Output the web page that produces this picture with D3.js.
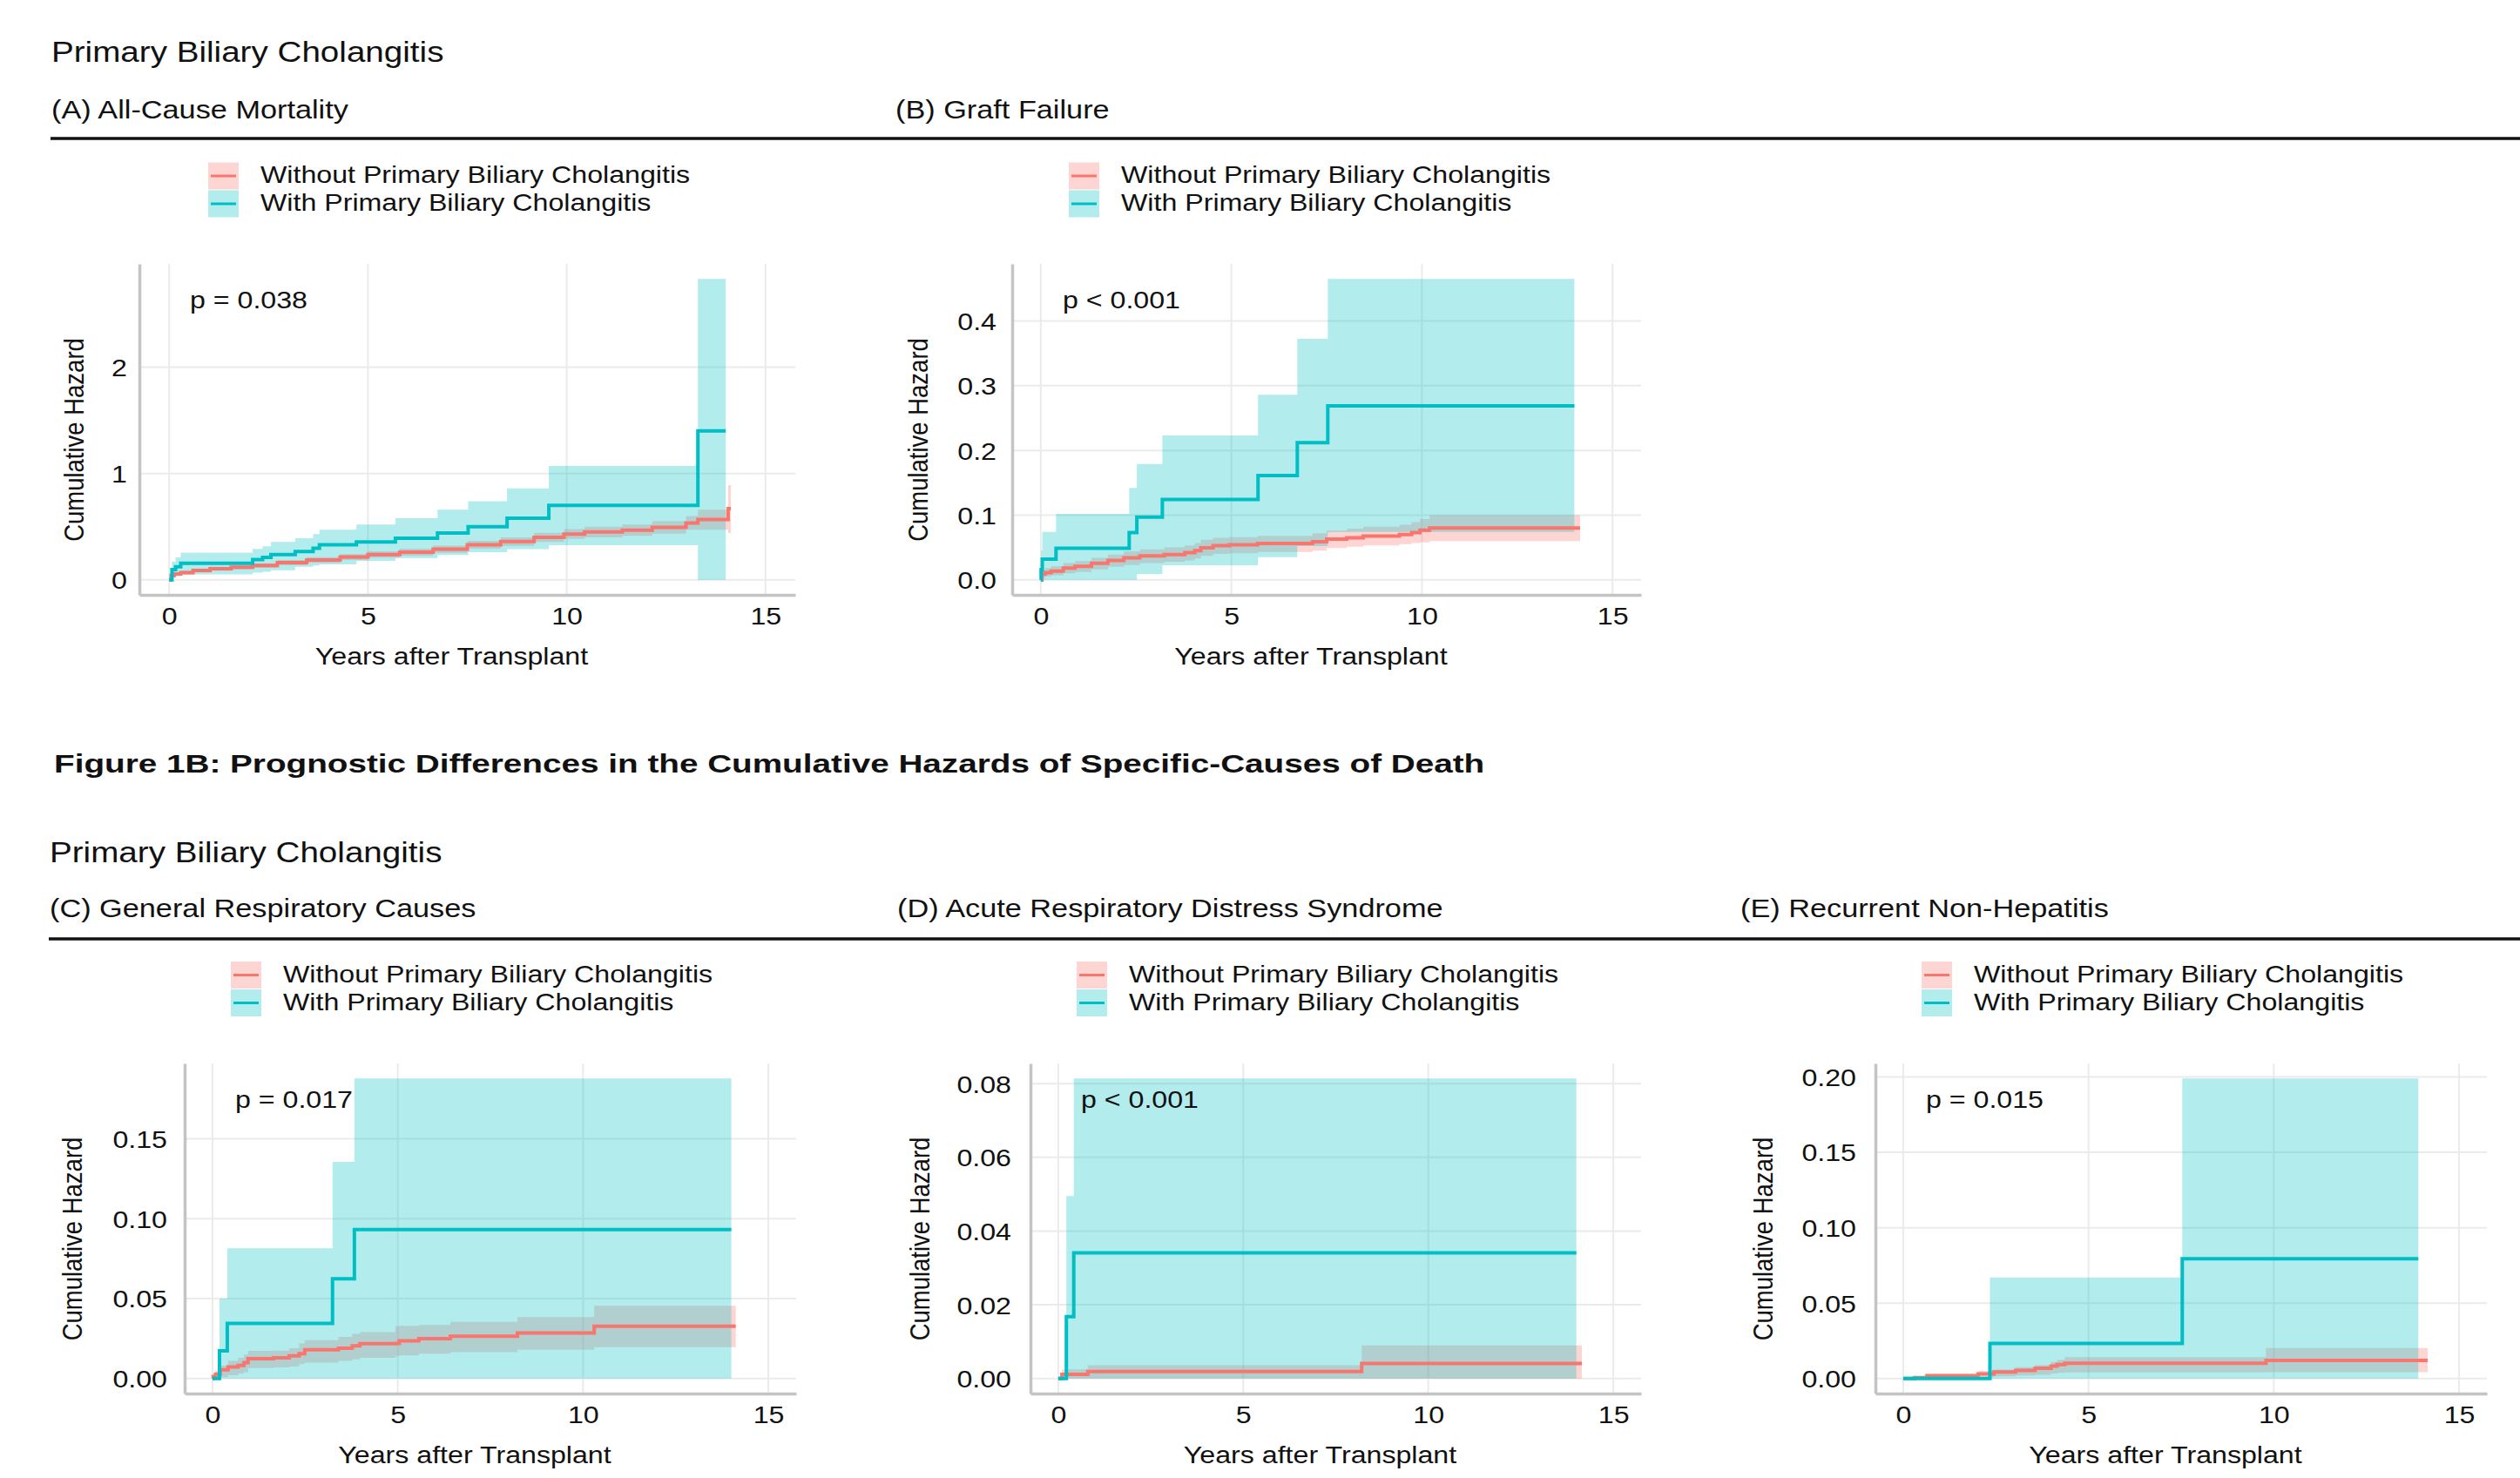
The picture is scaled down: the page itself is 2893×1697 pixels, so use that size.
<!DOCTYPE html>
<html><head><meta charset="utf-8">
<script src="https://cdn.jsdelivr.net/npm/d3@7"></script>
<style>
html,body{margin:0;padding:0;background:#fff;}
svg{display:block;}
text{font-family:"Liberation Sans",Arial,Helvetica,sans-serif;}
</style></head><body>
<svg id="chart" width="2893" height="1697"></svg>
<script>
// ---------------- DATA ----------------
const groupTitle = "Primary Biliary Cholangitis";
const figureTitle = "Figure 1B: Prognostic Differences in the Cumulative Hazards of Specific-Causes of Death";
const seriesNames = ["Without Primary Biliary Cholangitis", "With Primary Biliary Cholangitis"];
const seriesColors = ["#F8766D", "#00BFC4"];
const panelTitles = ["(A) All-Cause Mortality", "(B) Graft Failure", "(C) General Respiratory Causes",
  "(D) Acute Respiratory Distress Syndrome", "(E) Recurrent Non-Hepatitis"];
const pLabels = ["p = 0.038", "p < 0.001", "p = 0.017", "p < 0.001", "p = 0.015"];
const xTicks = [0, 5, 10, 15];
const xTitle = "Years after Transplant";
const yTitle = "Cumulative Hazard";
const yTicksA = [0, 1, 2];            const yLabelsA = ["0", "1", "2"];
const yTicksB = [0, 0.1, 0.2, 0.3, 0.4]; const yLabelsB = ["0.0", "0.1", "0.2", "0.3", "0.4"];
const yTicksC = [0, 0.05, 0.10, 0.15];  const yLabelsC = ["0.00", "0.05", "0.10", "0.15"];
const yTicksD = [0, 0.02, 0.04, 0.06, 0.08]; const yLabelsD = ["0.00", "0.02", "0.04", "0.06", "0.08"];
const yTicksE = [0, 0.05, 0.10, 0.15, 0.20]; const yLabelsE = ["0.00", "0.05", "0.10", "0.15", "0.20"];

// rows: [years, cumulative hazard, lower CI, upper CI]
const mortalityWithout = [
  [0,0,0,0],[0.05,0.04,0.025,0.055],[0.13,0.055,0.04,0.07],[0.29,0.068,0.052,0.085],[0.6,0.088,0.07,0.106],
  [1.03,0.104,0.085,0.123],[1.56,0.118,0.098,0.138],[2.1,0.134,0.112,0.156],[2.72,0.162,0.138,0.186],
  [3.46,0.186,0.16,0.212],[4.3,0.214,0.186,0.242],[5.0,0.238,0.208,0.268],[5.8,0.26,0.228,0.292],
  [6.64,0.288,0.254,0.322],[7.5,0.33,0.293,0.367],[8.34,0.36,0.32,0.40],[9.18,0.40,0.357,0.443],
  [9.93,0.43,0.384,0.476],[10.45,0.45,0.40,0.50],[11.4,0.466,0.413,0.52],[12.15,0.493,0.435,0.551],
  [13.0,0.534,0.47,0.60],[13.3,0.567,0.47,0.66],[14.06,0.67,0.44,0.89],[14.13,0.67,0.44,0.89]];
const mortalityWith = [
  [0,0,0,0],[0.07,0.096,0.02,0.17],[0.16,0.123,0.035,0.21],[0.29,0.156,0.05,0.255],[2.1,0.19,0.068,0.29],
  [2.35,0.21,0.075,0.315],[2.56,0.238,0.09,0.356],[3.17,0.266,0.123,0.39],[3.62,0.296,0.135,0.43],
  [3.78,0.33,0.145,0.47],[4.71,0.356,0.178,0.52],[5.69,0.39,0.205,0.58],[6.75,0.44,0.233,0.66],
  [7.52,0.50,0.26,0.74],[8.5,0.58,0.288,0.86],[9.55,0.70,0.326,1.07],[13.3,1.40,0,2.83],[14.0,1.40,0,2.83]];

const graftWithout = [
  [0,0,0,0],[0.03,0.009,0.003,0.015],[0.11,0.011,0.005,0.018],[0.27,0.0135,0.007,0.021],[0.59,0.018,0.01,0.026],
  [0.9,0.021,0.012,0.029],[1.33,0.0257,0.016,0.034],[1.76,0.030,0.02,0.039],[2.18,0.034,0.023,0.044],
  [2.6,0.037,0.026,0.047],[3.24,0.039,0.028,0.05],[3.78,0.042,0.03,0.053],[4.04,0.045,0.033,0.057],
  [4.2,0.0495,0.037,0.062],[4.52,0.0527,0.04,0.065],[4.95,0.054,0.041,0.066],[5.69,0.056,0.043,0.068],
  [7.13,0.059,0.045,0.072],[7.5,0.063,0.049,0.076],[8.03,0.065,0.051,0.079],[8.46,0.0676,0.053,0.082],
  [9.41,0.07,0.055,0.085],[9.73,0.073,0.057,0.089],[9.95,0.0766,0.058,0.094],[10.2,0.08,0.06,0.10],
  [14.15,0.08,0.06,0.10]];
const graftWith = [
  [0,0,0,0],[0.01,0.0158,0,0.045],[0.04,0.032,0,0.074],[0.4,0.0486,0,0.102],[2.32,0.073,0,0.142],
  [2.52,0.097,0.009,0.179],[3.19,0.124,0.0225,0.223],[5.7,0.161,0.035,0.286],[6.73,0.212,0.052,0.3725],
  [7.53,0.269,0.074,0.465],[14.0,0.269,0.074,0.465]];

const respWithout = [
  [0,0,0,0],[0.02,0.0012,0,0.003],[0.085,0.0027,0,0.005],[0.21,0.0055,0.001,0.008],[0.42,0.0073,0.002,0.011],
  [0.69,0.0082,0.003,0.013],[0.85,0.01,0.004,0.015],[0.96,0.0124,0.0065,0.0173],[1.65,0.013,0.007,0.0175],
  [2.07,0.0142,0.0075,0.019],[2.34,0.0155,0.009,0.022],[2.49,0.018,0.01,0.024],[3.4,0.019,0.011,0.026],
  [3.77,0.0204,0.012,0.028],[3.98,0.0218,0.013,0.029],[4.94,0.022,0.0142,0.0327],[5.04,0.0236,0.0145,0.033],
  [5.57,0.0249,0.0155,0.0336],[6.42,0.0264,0.0165,0.0355],[8.23,0.0285,0.018,0.0385],[10.3,0.0327,0.0196,0.0455],
  [14.12,0.0327,0.0196,0.0455]];
const respWith = [
  [0,0,0,0],[0.19,0.0173,0,0.05],[0.4,0.0345,0,0.0815],[3.24,0.0624,0,0.1356],[3.83,0.0932,0,0.1878],
  [14.0,0.0932,0,0.1878]];

const ardsWithout = [[0,0,0,0],[0.1,0.0011,0,0.0025],[0.8,0.0019,0,0.0036],[8.2,0.0041,0,0.009],[14.15,0.0041,0,0.009]];
const ardsWith = [[0,0,0,0],[0.22,0.0168,0,0.0495],[0.42,0.0341,0,0.0814],[14.0,0.0341,0,0.0814]];

const recurWithout = [
  [0,0,0,0.0005],[0.3,0.0006,0,0.0012],[0.64,0.0019,0.0003,0.003],[2.02,0.003,0.001,0.005],[2.45,0.0043,0.0015,0.006],
  [3.03,0.0054,0.002,0.0075],[3.56,0.0068,0.0025,0.009],[3.99,0.0082,0.0033,0.011],[4.15,0.0093,0.0037,0.0125],
  [4.36,0.0101,0.004,0.0142],[9.79,0.012,0.0042,0.0202],[14.15,0.012,0.0042,0.0202]];
const recurWith = [[0,0,0,0],[2.34,0.0233,0,0.067],[7.53,0.0794,0,0.199],[13.9,0.0794,0,0.199]];

// ---------------- LAYOUT ----------------
const S = 1.17; // horizontal stretch of the original figure
const FS = 27.5;
const panels = [
  {data:[mortalityWithout, mortalityWith], yt:yTicksA, yl:yLabelsA, left:160, right:913, top:303, bottom:683, tx:59, lx:239, ly:186.5, gap:14},
  {data:[graftWithout, graftWith], yt:yTicksB, yl:yLabelsB, left:1162, right:1884, top:303, bottom:683, tx:1028, lx:1227, ly:186.5, gap:18},
  {data:[respWithout, respWith], yt:yTicksC, yl:yLabelsC, left:212, right:914, top:1221, bottom:1600, tx:57, lx:265, ly:1104, gap:20},
  {data:[ardsWithout, ardsWith], yt:yTicksD, yl:yLabelsD, left:1183, right:1884, top:1221, bottom:1600, tx:1030, lx:1236, ly:1104, gap:22},
  {data:[recurWithout, recurWith], yt:yTicksE, yl:yLabelsE, left:2153, right:2855, top:1221, bottom:1600, tx:1998, lx:2206, ly:1104, gap:22}
];
const rows = [{titleY:71, subY:136, lineY:159, titleX:59}, {titleY:990, subY:1053, lineY:1078, titleX:57}];

const svg = d3.select("#chart");
svg.append("rect").attr("width", 2893).attr("height", 1697).attr("fill", "#fff");

function hText(parent, x, y, str, size, anchor, weight, sx) {
  const g = parent.append("g").attr("transform", `translate(${x},${y}) scale(${sx || S},1)`);
  g.append("text").attr("text-anchor", anchor || "start")
    .style("font-size", size + "px").style("font-weight", weight || "normal")
    .attr("fill", "#111").text(str);
  return g;
}

// row headers
rows.forEach(r => {
  hText(svg, r.titleX, r.titleY, groupTitle, 33);
  svg.append("line").attr("x1", r.titleX - 1).attr("x2", 2893).attr("y1", r.lineY).attr("y2", r.lineY)
    .attr("stroke", "#111").attr("stroke-width", 3.5);
});
hText(svg, 62, 887, figureTitle, 30, "start", "bold", 1.29);

panels.forEach((P, i) => {
  const row = rows[i < 2 ? 0 : 1];
  const g = svg.append("g");
  hText(g, P.tx, row.subY, panelTitles[i], 29.3);

  // legend
  seriesNames.forEach((name, k) => {
    const yy = P.ly + k * 32;
    g.append("rect").attr("x", P.lx).attr("y", yy).attr("width", 35).attr("height", 31)
      .attr("fill", seriesColors[k]).attr("fill-opacity", 0.3);
    g.append("line").attr("x1", P.lx + 3).attr("x2", P.lx + 32).attr("y1", yy + 15.5).attr("y2", yy + 15.5)
      .attr("stroke", seriesColors[k]).attr("stroke-width", 3);
    hText(g, P.lx + 60, yy + 23.5, name, FS);
  });

  const x = d3.scaleLinear().domain([-0.75, 15.75]).range([P.left, P.right]);
  const ymax = d3.max(P.data.flat(), d => d[3]);
  const y = d3.scaleLinear().domain([-0.05 * ymax, 1.05 * ymax]).range([P.bottom, P.top]);

  // grid
  g.append("g").selectAll("line").data(P.yt).join("line")
    .attr("x1", P.left).attr("x2", P.right).attr("y1", d => y(d)).attr("y2", d => y(d))
    .attr("stroke", "#EBEBEB").attr("stroke-width", 2);
  g.append("g").selectAll("line").data(xTicks).join("line")
    .attr("y1", P.top).attr("y2", P.bottom).attr("x1", d => x(d)).attr("x2", d => x(d))
    .attr("stroke", "#EBEBEB").attr("stroke-width", 2);

  // ribbons
  const area = d3.area().curve(d3.curveStepAfter).x(d => x(d[0])).y0(d => y(d[2])).y1(d => y(d[3]));
  const line = d3.line().curve(d3.curveStepAfter).x(d => x(d[0])).y(d => y(d[1]));
  P.data.forEach((ser, k) => {
    g.append("path").attr("d", area(ser)).attr("fill", seriesColors[k]).attr("fill-opacity", 0.3);
  });
  P.data.forEach((ser, k) => {
    g.append("path").attr("d", line(ser)).attr("fill", "none").attr("stroke", seriesColors[k])
      .attr("stroke-width", 4).attr("stroke-linejoin", "miter");
  });

  // axes
  const ax = g.append("g").attr("transform", `translate(0,${P.bottom})`)
    .call(d3.axisBottom(x).tickValues(xTicks).tickFormat(d3.format("d")).tickSize(0).tickSizeOuter(0));
  ax.select(".domain").attr("stroke", "#C4C4C4").attr("stroke-width", 3.5);
  ax.selectAll("text").attr("y", null).attr("dy", null)
    .attr("transform", `translate(0,34) scale(${S},1)`)
    .style("font-size", FS + "px").attr("fill", "#111").style("font-family", '"Liberation Sans",Arial,sans-serif');

  const ay = g.append("g").attr("transform", `translate(${P.left},0)`)
    .call(d3.axisLeft(y).tickValues(P.yt).tickFormat((d, j) => P.yl[j]).tickSize(0).tickSizeOuter(0));
  ay.select(".domain").attr("stroke", "#C4C4C4").attr("stroke-width", 3.5);
  ay.selectAll("text").attr("x", null).attr("dy", "0.36em")
    .attr("transform", `translate(${-P.gap},0) scale(${S},1)`)
    .style("font-size", FS + "px").attr("fill", "#111").style("font-family", '"Liberation Sans",Arial,sans-serif');

  // axis titles
  hText(g, (P.left + P.right) / 2 - 18, P.bottom + 80, xTitle, FS, "middle");
  const yt = g.append("g").attr("transform", `translate(${P.tx + 26},${(P.top + P.bottom) / 2 + 12}) scale(${S},1) rotate(-90)`);
  yt.append("text").attr("text-anchor", "middle").attr("dominant-baseline", "central")
    .style("font-size", FS + "px").attr("fill", "#111").text(yTitle);

  // p-value
  hText(g, P.left + 58, P.top + 51, pLabels[i], FS);
});
</script>
</body></html>
